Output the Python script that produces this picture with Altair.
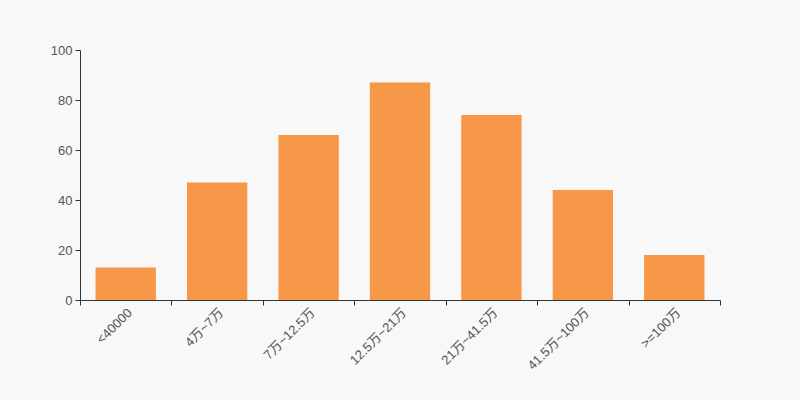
import altair as alt
import pandas as pd

categories = ["<40000", "4万~7万", "7万~12.5万", "12.5万~21万", "21万~41.5万", "41.5万~100万", ">=100万"]
values = [13, 47, 66, 87, 74, 44, 18]

df = pd.DataFrame({"cat": categories, "val": values})
FONT = "Liberation Sans, Noto Sans CJK SC, sans-serif"
LABEL = "#555555"

bars = alt.Chart(df).mark_bar(color="#f79748").encode(
    x=alt.X("cat:N", sort=categories, title=None,
            scale=alt.Scale(paddingInner=0.34, paddingOuter=0.17),
            axis=alt.Axis(labelAngle=-45, ticks=False, domain=True, domainColor="#333333",
                          labelColor=LABEL, labelFontSize=13, labelFont=FONT,
                          labelPadding=6, labelOverlap=False)),
    y=alt.Y("val:Q", title=None,
            scale=alt.Scale(domain=[0, 100], nice=False),
            axis=alt.Axis(values=[0, 20, 40, 60, 80, 100], grid=False, domainColor="#333333",
                          tickColor="#333333", tickSize=5, labelColor=LABEL,
                          labelFontSize=13, labelFont=FONT, labelPadding=3)),
)

tick_layer = alt.Chart(df).mark_point(opacity=0).encode(
    x=alt.XDatum(0, type="quantitative",
                 scale=alt.Scale(domain=[0, len(categories)], nice=False, zero=False),
                 axis=alt.Axis(orient="bottom", values=list(range(len(categories) + 1)),
                               labels=False, domain=False, grid=False, tickColor="#333333",
                               tickSize=5, title=None)),
)

chart = alt.layer(bars, tick_layer).resolve_scale(x="independent").properties(
    width=640, height=250,
    autosize=alt.AutoSizeParams(type="none"),
    padding={"left": 72, "top": 42, "right": 72, "bottom": 92},
    background="#f8f8f8",
).configure_view(stroke=None)

chart.save("out.html", embed_options={"renderer": "svg", "actions": False})

with open("out.html", encoding="utf-8") as f:
    html = f.read()
html = html.replace("<head>", "<head><style>html, body { background: #f8f8f8; }</style>", 1)
with open("out.html", "w", encoding="utf-8") as f:
    f.write(html)
